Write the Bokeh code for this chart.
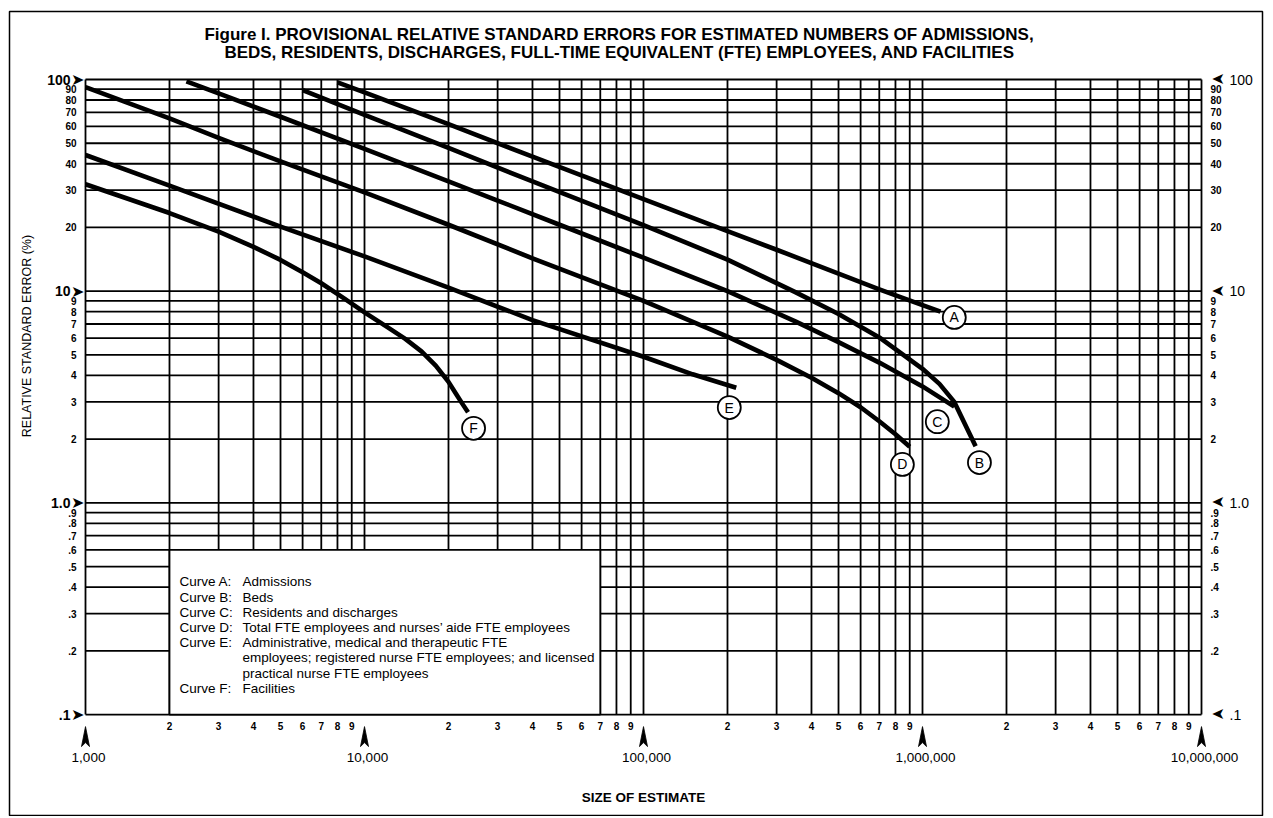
import math
from bokeh.plotting import figure
from bokeh.models import Range1d
from bokeh.core.properties import value
from bokeh.embed import file_html
from bokeh.resources import INLINE

# ---------------- data ----------------
A_size = [8000, 10000, 20000, 40000, 100000, 200000, 300000, 500000, 700000, 1000000, 1160000]
A_rse = [97, 87, 61.5, 43.2, 27.2, 19.2, 15.7, 12.1, 10.2, 8.6, 8.0]

B_size = [6000, 10000, 20000, 40000, 100000, 200000, 350000, 500000, 700000, 1000000, 1150000, 1300000, 1550000]
B_rse = [89, 68, 47.5, 33, 20.5, 14.1, 9.9, 7.8, 6.05, 4.3, 3.65, 3.0, 1.85]

C_size = [2300, 3000, 5000, 10000, 20000, 30000, 50000, 100000, 200000, 350000, 500000, 700000, 1000000, 1300000]
C_rse = [98, 86, 66.7, 47, 33, 26.8, 20.6, 14.4, 10.0, 7.2, 5.75, 4.6, 3.55, 2.85]

D_size = [1000, 2000, 3000, 5000, 10000, 20000, 40000, 100000, 200000, 300000, 400000, 500000, 600000, 700000, 800000, 900000]
D_rse = [92, 65.5, 53, 41, 29.3, 20.6, 14.3, 9.0, 6.1, 4.74, 3.9, 3.3, 2.83, 2.43, 2.11, 1.84]

E_size = [1000, 2000, 5000, 10000, 20000, 40000, 100000, 150000, 215000]
E_rse = [44, 31.5, 20.2, 14.6, 10.4, 7.3, 4.9, 4.05, 3.5]

F_size = [1000, 2000, 3000, 4000, 5000, 6000, 7000, 8500, 10000, 12000, 14000, 16000, 18000, 20000, 21300, 22500, 23500]
F_rse = [32, 23.4, 19.1, 16.2, 14.05, 12.3, 10.9, 9.2, 7.95, 6.8, 5.95, 5.2, 4.45, 3.73, 3.27, 2.92, 2.68]

curve_letters = ["A", "B", "C", "D", "E", "F"]
letter_size = [1300000, 1600000, 1130000, 847000, 203000, 24600]
letter_rse = [7.52, 1.55, 2.42, 1.52, 2.82, 2.25]

x_major = [1000, 10000, 100000, 1000000, 10000000]
x_major_labels = ["1,000", "10,000", "100,000", "1,000,000", "10,000,000"]
x_minor_digits = ["2", "3", "4", "5", "6", "7", "8", "9"]

y_major = [100, 10, 1.0, 0.1]
y_major_labels = ["100", "10", "1.0", ".1"]
y_minor = [90, 80, 70, 60, 50, 40, 30, 20, 9, 8, 7, 6, 5, 4, 3, 2,
           0.9, 0.8, 0.7, 0.6, 0.5, 0.4, 0.3, 0.2]
y_minor_labels = ["90", "80", "70", "60", "50", "40", "30", "20",
                  "9", "8", "7", "6", "5", "4", "3", "2",
                  ".9", ".8", ".7", ".6", ".5", ".4", ".3", ".2"]

title_lines = ["Figure I. PROVISIONAL RELATIVE STANDARD ERRORS FOR ESTIMATED NUMBERS OF ADMISSIONS,",
               "BEDS, RESIDENTS, DISCHARGES, FULL-TIME EQUIVALENT (FTE) EMPLOYEES, AND FACILITIES"]
y_title = "RELATIVE STANDARD ERROR (%)"
x_title = "SIZE OF ESTIMATE"

key_labels = ["Curve A:", "Curve B:", "Curve C:", "Curve D:", "Curve E:", "", "", "Curve F:"]
key_texts = ["Admissions",
             "Beds",
             "Residents and discharges",
             "Total FTE employees and nurses\u2019 aide FTE employees",
             "Administrative, medical and therapeutic FTE",
             "employees; registered nurse FTE employees; and licensed",
             "practical nurse FTE employees",
             "Facilities"]

# ---------------- layout ----------------
ORIGIN = 1
W, H = 1264, 816
MB_L, MB_R, MB_T, MB_B = 9, 2, 11, 0
frame_w = W - MB_L - MB_R
frame_h = H - MB_T - MB_B
PX_DEC_X = 279.0
PX_DEC_Y = 211.7
x_left_px = 86 - ORIGIN - MB_L      # pixel of x=1000 inside frame
y_top_px = 80 - ORIGIN - MB_T       # pixel of y=100 inside frame
lx0 = math.log10(x_major[0]) - x_left_px / PX_DEC_X
lx1 = lx0 + frame_w / PX_DEC_X
ly1 = math.log10(y_major[0]) + y_top_px / PX_DEC_Y
ly0 = ly1 - frame_h / PX_DEC_Y

XMIN, XMAX = x_major[0], x_major[-1]
YMIN, YMAX = y_major[-1], y_major[0]

p = figure(width=W, height=H, output_backend="svg", toolbar_location=None,
           x_axis_type="log", y_axis_type="log",
           x_range=Range1d(10 ** lx0, 10 ** lx1), y_range=Range1d(10 ** ly0, 10 ** ly1),
           x_axis_location=None, y_axis_location=None,
           min_border_left=MB_L, min_border_right=MB_R,
           min_border_top=MB_T, min_border_bottom=MB_B,
           outline_line_color="black", outline_line_width=1.5,
           background_fill_color="white", border_fill_color="white")
p.grid.visible = False

x_minor = [int(d) * m for m in x_major[:-1] for d in x_minor_digits]
x_minor_text = [d for m in x_major[:-1] for d in x_minor_digits]
grid_x = x_major + x_minor
grid_y = y_major + y_minor

GRID_W = 1.8
p.segment(x0=grid_x, y0=[YMIN] * len(grid_x), x1=grid_x, y1=[YMAX] * len(grid_x),
          line_color="black", line_width=GRID_W)
p.segment(x0=[XMIN] * len(grid_y), y0=grid_y, x1=[XMAX] * len(grid_y), y1=grid_y,
          line_color="black", line_width=GRID_W)

# key box (covers the grid)
BOX_L, BOX_R, BOX_T, BOX_B = 2000, 70000, 0.6, 0.1
p.quad(left=[BOX_L], right=[BOX_R], top=[BOX_T], bottom=[BOX_B],
       fill_color="white", line_color="black", line_width=GRID_W)

# curves
for xs, ys in [(A_size, A_rse), (B_size, B_rse), (C_size, C_rse),
               (D_size, D_rse), (E_size, E_rse), (F_size, F_rse)]:
    p.line(xs, ys, line_color="black", line_width=4.6, line_join="round")

SANS = value("Liberation Sans")
SYM = value("DejaVu Sans")

# curve letters in circles
p.scatter(letter_size, letter_rse, marker="circle", size=23,
          fill_color="white", line_color="black", line_width=1.8)
p.text(letter_size, letter_rse, text=curve_letters, text_align="center",
       text_baseline="middle", text_font=SANS, text_font_size="14px", text_color="black")

# left tick labels
p.text([XMIN] * 4, y_major, text=["\u27a4"] * 4, x_offset=-1, text_align="right",
       text_baseline="middle", text_font=SYM, text_font_size="16px")
p.text([XMIN] * 4, y_major, text=y_major_labels, x_offset=-15, text_align="right",
       text_baseline="middle", text_font=SANS, text_font_size="14px", text_font_style="bold")
p.text([XMIN] * len(y_minor), y_minor, text=y_minor_labels, x_offset=-9, text_align="right",
       text_baseline="middle", text_font=SANS, text_font_size="10px", text_font_style="bold")

# right tick labels
p.text([XMAX] * 4, y_major, text=["\u27a4"] * 4, x_offset=10, text_align="right",
       angle=math.pi, text_baseline="middle", text_font=SYM, text_font_size="16px")
p.text([XMAX] * 4, y_major, text=y_major_labels, x_offset=28, text_align="left",
       text_baseline="middle", text_font=SANS, text_font_size="14px")
p.text([XMAX] * len(y_minor), y_minor, text=y_minor_labels, x_offset=9, text_align="left",
       text_baseline="middle", text_font=SANS, text_font_size="10px", text_font_style="bold")

# bottom tick labels
p.text(x_minor, [YMIN] * len(x_minor), text=x_minor_text, y_offset=11, text_align="center",
       text_baseline="middle", text_font=SANS, text_font_size="10px", text_font_style="bold")

# narrow upward arrowheads under the decade ticks (sizes in screen pixels)
ARW_HALF, ARW_TIP, ARW_NOTCH, ARW_BASE = 4.0, 12.0, 28.0, 32.0
fx = lambda px: 10 ** (px / PX_DEC_X)
fy = lambda px: 10 ** (-px / PX_DEC_Y)
arrow_xs = [[t, t * fx(ARW_HALF), t, t * fx(-ARW_HALF)] for t in x_major]
arrow_ys = [[YMIN * fy(ARW_TIP), YMIN * fy(ARW_BASE), YMIN * fy(ARW_NOTCH), YMIN * fy(ARW_BASE)]
            for t in x_major]
p.patches(arrow_xs, arrow_ys, fill_color="black", line_color="black", line_width=0.8)

p.text(x_major, [YMIN] * len(x_major), text=x_major_labels, x_offset=3, y_offset=43,
       text_align="center", text_baseline="middle", text_font=SANS, text_font_size="13.5px")

# titles
x_mid = 10 ** ((math.log10(XMIN) + math.log10(XMAX)) / 2)
y_mid = 10 ** ((math.log10(YMIN) + math.log10(YMAX)) / 2)
p.text([x_mid, x_mid], [YMAX, YMAX], text=title_lines, x_offset=-24, y_offset=[-45, -27.5],
       text_align="center", text_baseline="middle", text_font=SANS,
       text_font_size="17px", text_font_style="bold")
p.text([XMIN], [y_mid], text=[y_title], x_offset=-59, y_offset=-61, angle=math.pi / 2,
       text_align="center", text_baseline="middle", text_font=SANS, text_font_size="12.5px")
p.text([x_mid], [YMIN], text=[x_title], y_offset=83, text_align="center",
       text_baseline="middle", text_font=SANS, text_font_size="13.5px", text_font_style="bold")

# key text
n = len(key_texts)
key_dy = [32 + 15.2 * i for i in range(n)]
p.text([BOX_L] * n, [BOX_T] * n, text=key_labels, x_offset=10, y_offset=key_dy,
       text_align="left", text_baseline="middle", text_font=SANS, text_font_size="13.5px")
p.text([BOX_L] * n, [BOX_T] * n, text=key_texts, x_offset=73, y_offset=key_dy,
       text_align="left", text_baseline="middle", text_font=SANS, text_font_size="13.5px")

open("out.html", "w").write(file_html(p, INLINE))
